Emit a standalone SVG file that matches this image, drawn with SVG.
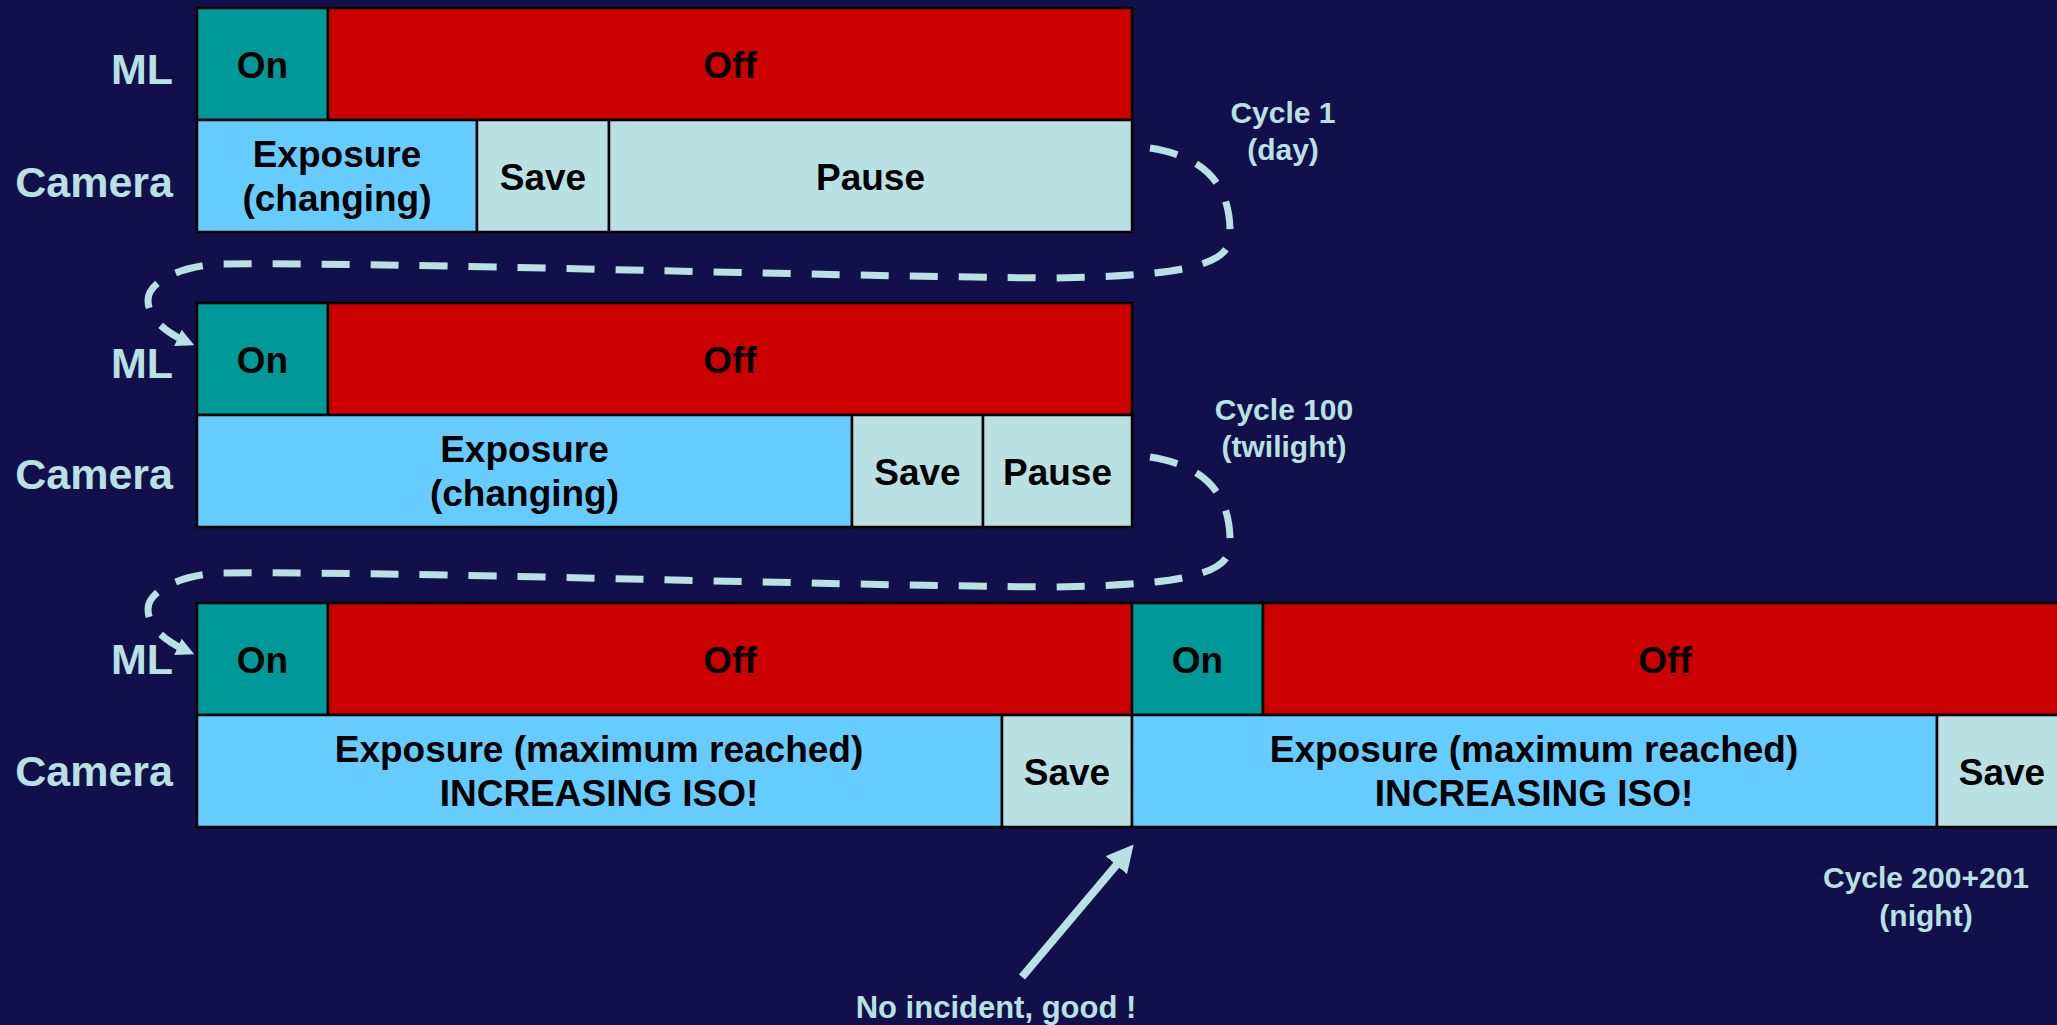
<svg xmlns="http://www.w3.org/2000/svg" width="2057" height="1025" viewBox="0 0 2057 1025">
<style>
  .on{fill:#009999;stroke:#000;stroke-width:2.5}
  .off{fill:#CC0000;stroke:#000;stroke-width:2.5}
  .exp{fill:#66CCFF;stroke:#000;stroke-width:2.5}
  .sv{fill:#B9E0E3;stroke:#000;stroke-width:2.5}
  .t{font-family:"Liberation Sans",Arial,sans-serif;font-weight:bold;font-size:37px;fill:#000;text-anchor:middle}
  .lbl{font-family:"Liberation Sans",Arial,sans-serif;font-weight:bold;font-size:43px;fill:#B9E0E3;text-anchor:end}
  .cyc{font-family:"Liberation Sans",Arial,sans-serif;font-weight:bold;font-size:30px;fill:#B9E0E3;text-anchor:middle}
  .dash{fill:none;stroke:#B9E0E3;stroke-width:7;stroke-dasharray:28 21}
  .solid{fill:none;stroke:#B9E0E3;stroke-width:8}
</style>
<defs>
  <marker id="ah" markerUnits="userSpaceOnUse" viewBox="0 0 18 18" refX="10" refY="9" markerWidth="18" markerHeight="18" orient="auto">
    <path d="M0,0 L18,9 L0,18 z" fill="#B9E0E3"/>
  </marker>
  <marker id="ah2" markerUnits="userSpaceOnUse" viewBox="0 0 27 28" refX="12" refY="14" markerWidth="27" markerHeight="28" orient="auto">
    <path d="M0,0 L27,14 L0,28 z" fill="#B9E0E3"/>
  </marker>
</defs>
<rect x="0" y="0" width="2057" height="1025" fill="#11104A"/>

<!-- Row labels -->
<g id="labels">
  <text class="lbl" x="173" y="84">ML</text>
  <text class="lbl" x="173" y="197">Camera</text>
  <text class="lbl" x="173" y="378">ML</text>
  <text class="lbl" x="173" y="489">Camera</text>
  <text class="lbl" x="173" y="674">ML</text>
  <text class="lbl" x="173" y="786">Camera</text>
</g>

<!-- Cycle 1 -->
<g id="c1-on"><rect class="on" x="197" y="8" width="131" height="112"/><text class="t" x="262.5" y="78">On</text></g>
<g id="c1-off"><rect class="off" x="328" y="8" width="804" height="112"/><text class="t" x="730" y="78">Off</text></g>
<g id="c1-exp"><rect class="exp" x="197" y="120" width="280" height="112"/><text class="t" x="337" y="167">Exposure</text><text class="t" x="337" y="211">(changing)</text></g>
<g id="c1-save"><rect class="sv" x="477" y="120" width="132" height="112"/><text class="t" x="543" y="190">Save</text></g>
<g id="c1-pause"><rect class="sv" x="609" y="120" width="523" height="112"/><text class="t" x="870.5" y="190">Pause</text></g>

<!-- Cycle 100 -->
<g id="c100-on"><rect class="on" x="197" y="303" width="131" height="112"/><text class="t" x="262.5" y="373">On</text></g>
<g id="c100-off"><rect class="off" x="328" y="303" width="804" height="112"/><text class="t" x="730" y="373">Off</text></g>
<g id="c100-exp"><rect class="exp" x="197" y="415" width="655" height="112"/><text class="t" x="524.5" y="462">Exposure</text><text class="t" x="524.5" y="506">(changing)</text></g>
<g id="c100-save"><rect class="sv" x="852" y="415" width="131" height="112"/><text class="t" x="917.5" y="485">Save</text></g>
<g id="c100-pause"><rect class="sv" x="983" y="415" width="149" height="112"/><text class="t" x="1057.5" y="485">Pause</text></g>

<!-- Cycle 200 -->
<g id="c200-on"><rect class="on" x="197" y="603" width="131" height="112"/><text class="t" x="262.5" y="673">On</text></g>
<g id="c200-off"><rect class="off" x="328" y="603" width="804" height="112"/><text class="t" x="730" y="673">Off</text></g>
<g id="c200-exp"><rect class="exp" x="197" y="715" width="805" height="112"/><text class="t" x="599" y="762">Exposure (maximum reached)</text><text class="t" x="599" y="806">INCREASING ISO!</text></g>
<g id="c200-save"><rect class="sv" x="1002" y="715" width="130" height="112"/><text class="t" x="1067" y="785">Save</text></g>

<!-- Cycle 201 -->
<g id="c201-on"><rect class="on" x="1132" y="603" width="131" height="112"/><text class="t" x="1197.5" y="673">On</text></g>
<g id="c201-off"><rect class="off" x="1263" y="603" width="830" height="112"/><text class="t" x="1665" y="673">Off</text></g>
<g id="c201-exp"><rect class="exp" x="1132" y="715" width="805" height="112"/><text class="t" x="1534" y="762">Exposure (maximum reached)</text><text class="t" x="1534" y="806">INCREASING ISO!</text></g>
<g id="c201-save"><rect class="sv" x="1937" y="715" width="160" height="112"/><text class="t" x="2002" y="785">Save</text></g>

<!-- Cycle labels -->
<g id="cycle-labels">
  <text class="cyc" x="1283" y="123">Cycle 1</text>
  <text class="cyc" x="1283" y="160">(day)</text>
  <text class="cyc" x="1284" y="420">Cycle 100</text>
  <text class="cyc" x="1284" y="457">(twilight)</text>
  <text class="cyc" x="1926" y="888">Cycle 200+201</text>
  <text class="cyc" x="1926" y="926">(night)</text>
  <text class="cyc" x="996" y="1018" style="font-size:31px">No incident, good !</text>
</g>

<!-- Connectors -->
<g id="connectors">
  <path class="dash" marker-end="url(#ah)" d="M1150,148 C1200,156 1232,180 1230,238 C1228,268 1170,276 1053,278 C800,276 400,262 220,264 C180,266 148,282 148,300 C148,318 165,332 187,342"/>
  <path class="dash" marker-end="url(#ah)" d="M1150,457 C1200,465 1232,489 1230,547 C1228,577 1170,585 1053,587 C800,585 400,571 220,573 C180,575 148,591 148,609 C148,627 165,641 187,651"/>
  <path class="solid" marker-end="url(#ah2)" d="M1022,977 L1124,856"/>
</g>
</svg>
